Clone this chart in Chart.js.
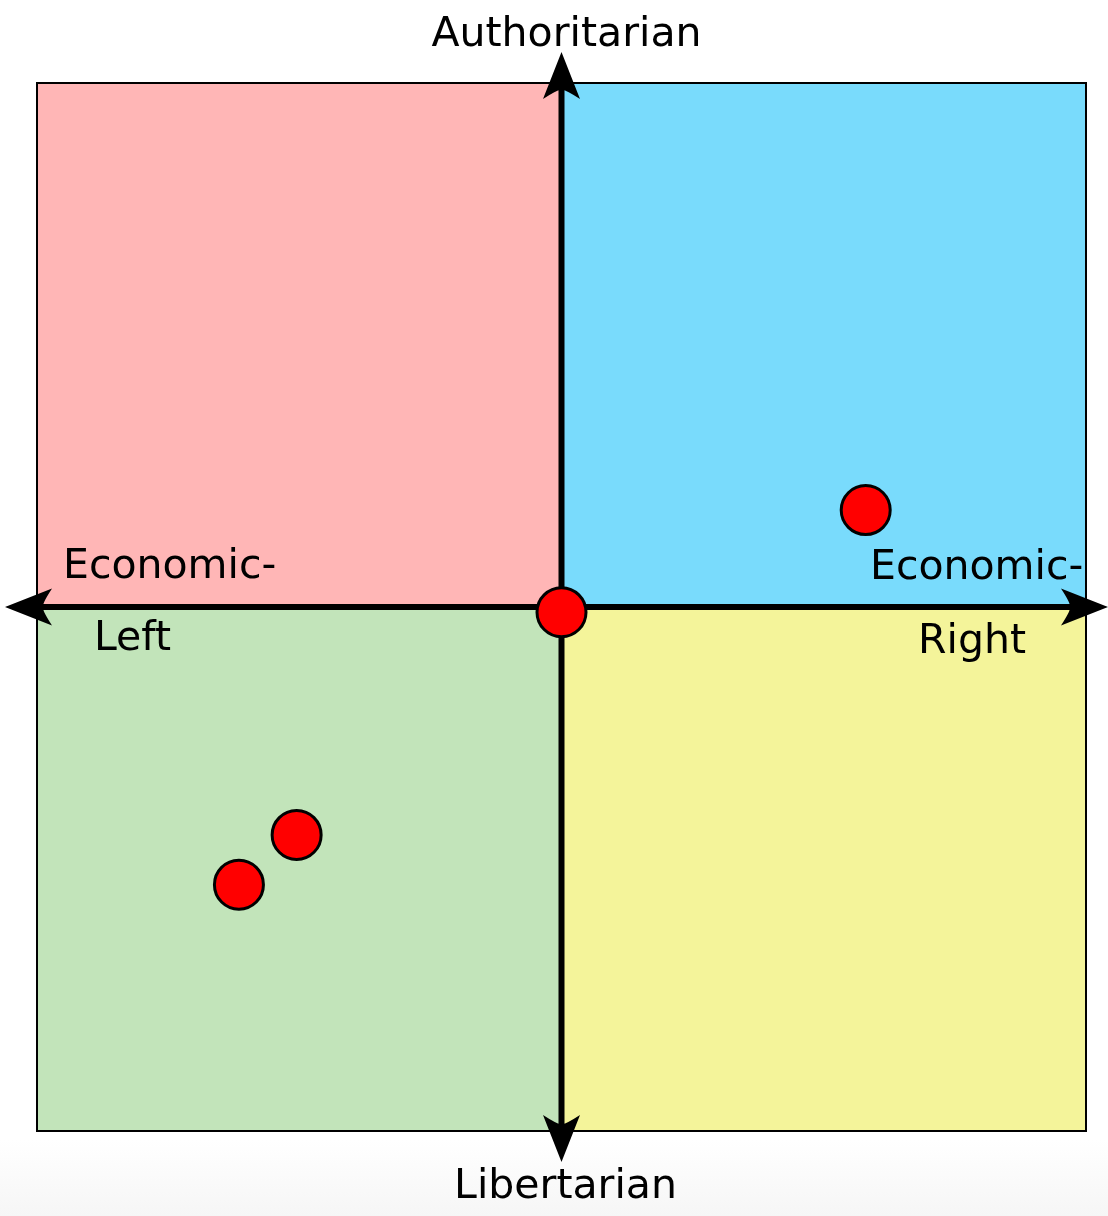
<!DOCTYPE html>
<html>
<head>
<meta charset="utf-8">
<script src="https://cdn.jsdelivr.net/npm/chart.js@4/dist/chart.umd.min.js"></script>
<style>
  html, body { margin: 0; padding: 0; background: #fff; overflow: hidden; }
  #wrap { width: 1108px; height: 1216px; position: relative;
    background: linear-gradient(to bottom, #fff 0, #fff 1140px, #f6f6f6 1216px); }
  #compass { display: block; }
</style>
</head>
<body>
<div id="wrap"><canvas id="compass" width="1108" height="1216"></canvas></div>
<script>
// 数据：经济轴 (x) 与 社会轴 (y)，范围 -10 ~ 10
const pointsX = [5.8, 0, -5.05, -6.15];
const pointsY = [1.85, -0.1, -4.35, -5.3];
const axisMin = -10;
const axisMax = 10;

// 四个象限颜色：左上、右上、左下、右下
const quadrantColors = ["#ffb6b6", "#79dbfc", "#c2e4ba", "#f4f49a"];

const labelTop = "Authoritarian";
const labelBottom = "Libertarian";
const labelLeft = ["Economic-", "Left"];
const labelRight = ["Economic-", "Right"];

// 箭头：尖端 + 内凹的尾部
function drawArrow(ctx, tipX, tipY, dirX, dirY) {
  const len = 47, half = 18.5, notch = 8;
  const bx = tipX - dirX * len, by = tipY - dirY * len;
  const px = -dirY, py = dirX;
  ctx.beginPath();
  ctx.moveTo(tipX, tipY);
  ctx.lineTo(bx + px * half, by + py * half);
  ctx.quadraticCurveTo(
    tipX - dirX * (len - notch - 4), tipY - dirY * (len - notch - 4),
    tipX - dirX * (len - notch), tipY - dirY * (len - notch)
  );
  ctx.quadraticCurveTo(
    tipX - dirX * (len - notch - 4), tipY - dirY * (len - notch - 4),
    bx - px * half, by - py * half
  );
  ctx.closePath();
  ctx.fill();
}

const compassPlugin = {
  id: "compass",
  beforeDatasetsDraw(chart) {
    const ctx = chart.ctx;
    const xs = chart.scales.x, ys = chart.scales.y;
    const l = xs.getPixelForValue(axisMin), r = xs.getPixelForValue(axisMax);
    const t = ys.getPixelForValue(axisMax), b = ys.getPixelForValue(axisMin);
    const cx = xs.getPixelForValue(0), cy = ys.getPixelForValue(0);
    ctx.save();
    ctx.fillStyle = quadrantColors[0]; ctx.fillRect(l, t, cx - l, cy - t);
    ctx.fillStyle = quadrantColors[1]; ctx.fillRect(cx, t, r - cx, cy - t);
    ctx.fillStyle = quadrantColors[2]; ctx.fillRect(l, cy, cx - l, b - cy);
    ctx.fillStyle = quadrantColors[3]; ctx.fillRect(cx, cy, r - cx, b - cy);

    ctx.strokeStyle = "#000";
    ctx.lineWidth = 2;
    ctx.strokeRect(l, t, r - l, b - t);

    // 坐标轴
    ctx.lineWidth = 6;
    ctx.beginPath();
    ctx.moveTo(l - 10, cy); ctx.lineTo(r + 5, cy);
    ctx.moveTo(cx, t - 10); ctx.lineTo(cx, b + 10);
    ctx.stroke();
    ctx.fillStyle = "#000";
    drawArrow(ctx, l - 32, cy, -1, 0);
    drawArrow(ctx, r + 22, cy, 1, 0);
    drawArrow(ctx, cx, t - 31, 0, -1);
    drawArrow(ctx, cx, b + 31, 0, 1);

    // 文字标签
    ctx.font = "41px 'DejaVu Sans'";
    ctx.textBaseline = "alphabetic";
    ctx.textAlign = "center";
    ctx.fillText(labelTop, cx + 5, t - 37);
    ctx.fillText(labelBottom, cx + 4, b + 67);
    ctx.textAlign = "left";
    ctx.fillText(labelLeft[0], l + 26, cy - 29);
    ctx.fillText(labelLeft[1], l + 57, cy + 43);
    ctx.fillText(labelRight[0], r - 216, cy - 28);
    ctx.fillText(labelRight[1], r - 168, cy + 46);
    ctx.restore();
  }
};

const ctx = document.getElementById("compass").getContext("2d");
new Chart(ctx, {
  type: "scatter",
  data: {
    datasets: [{
      data: pointsX.map((x, i) => ({ x: x, y: pointsY[i] })),
      backgroundColor: "#ff0000",
      borderColor: "#000",
      borderWidth: 3,
      pointRadius: 24.5,
      pointHoverRadius: 24.5,
    }],
  },
  options: {
    responsive: false,
    animation: false,
    layout: { autoPadding: false, padding: { left: 37, right: 22, top: 83, bottom: 85 } },
    scales: {
      x: { min: axisMin, max: axisMax, display: false },
      y: { min: axisMin, max: axisMax, display: false },
    },
    plugins: { legend: { display: false }, tooltip: { enabled: false } },
  },
  plugins: [compassPlugin],
});
</script>
</body>
</html>
